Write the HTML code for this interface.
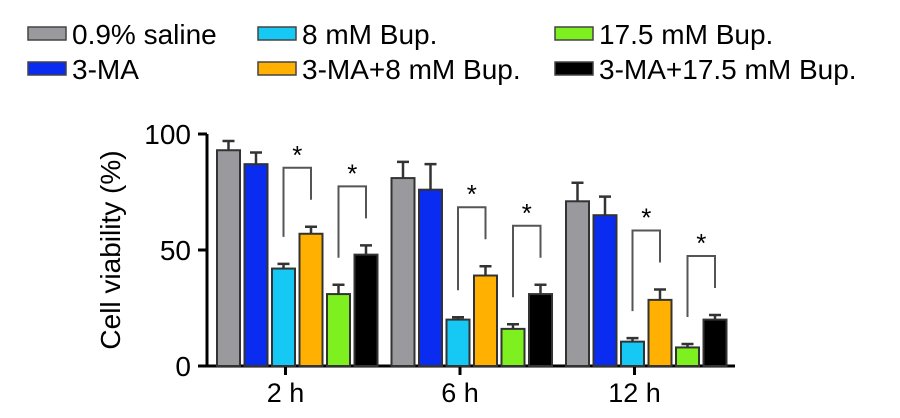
<!DOCTYPE html>
<html><head><meta charset="utf-8"><style>
body{margin:0;background:#fff;width:900px;height:413px;overflow:hidden;font-family:"Liberation Sans",sans-serif}
</style></head><body>
<svg id="c" width="900" height="413" font-family="Liberation Sans, sans-serif"></svg>
<script>
const categories=["2 h","6 h","12 h"];
const seriesNames=["0.9% saline","3-MA","8 mM Bup.","3-MA+8 mM Bup.","17.5 mM Bup.","3-MA+17.5 mM Bup."];
const salineVals=[93,81,71];
const maVals=[87,76,65];
const bup8Vals=[42,20,10.5];
const ma8Vals=[57,39,28.5];
const bup175Vals=[31,16,8];
const ma175Vals=[48,31,20];
const salineErr=[4,7,8];
const maErr=[5,11,8];
const bup8Err=[2,1,1.5];
const ma8Err=[3,4,4.5];
const bup175Err=[4,2,1.5];
const ma175Err=[4,4,2];
const yTicks=[0,50,100];
const colors=["#9a9a9e","#0a2cf0","#16c8f4","#ffb000","#7ef020","#000000"];
const vals=[salineVals,maVals,bup8Vals,ma8Vals,bup175Vals,ma175Vals];
const errs=[salineErr,maErr,bup8Err,ma8Err,bup175Err,ma175Err];
const NS="http://www.w3.org/2000/svg";
const svg=document.getElementById('c');
function mk(t,a,p){const e=document.createElementNS(NS,t);for(const k in a)e.setAttribute(k,a[k]);(p||svg).appendChild(e);return e;}
const y=v=>366-v*2.32;
const groupX=i=>217+i*174.5;
const barX=(g,j)=>groupX(g)+j*27.5;
const bw=23;
let ax=mk('line',{x1:207,y1:134,x2:207,y2:367,stroke:'#000','stroke-width':3});

ax=mk('line',{x1:206,y1:366,x2:735,y2:366,stroke:'#000','stroke-width':3});

yTicks.forEach(t=>{
 const l=mk('line',{x1:198,y1:y(t),x2:207,y2:y(t),stroke:'#000','stroke-width':3});
 
 const tx=mk('text',{x:191,y:y(t)+10,'text-anchor':'end','font-size':28});tx.textContent=t;
 
});
const yl=mk('text',{transform:'translate(120,250) rotate(-90)','text-anchor':'middle','font-size':28});
yl.textContent='Cell viability (%)';

categories.forEach((c,g)=>{
 const cx=barX(g,2)+bw/2+2;
 const l=mk('line',{x1:cx,y1:366,x2:cx,y2:375,stroke:'#000','stroke-width':3});
 
 const tx=mk('text',{x:cx,y:402,'text-anchor':'middle','font-size':27});tx.textContent=c;
 
 const tops=[];
 vals.forEach((arr,j)=>{
  const v=arr[g],e=errs[j][g],x=barX(g,j);
  const r=mk('rect',{x:x,y:y(v),width:bw,height:366-y(v),fill:colors[j],stroke:'#333','stroke-width':2});
  
  const eb=mk('path',{d:`M${x+bw/2},${y(v)}V${y(v+e)}M${x+bw/2-6},${y(v+e)}H${x+bw/2+6}`,stroke:'#333','stroke-width':2.5,fill:'none'});
  
  tops[j]=y(v+e);
 });
 [[2,3],[4,5]].forEach(([a,b])=>{
  const xa=barX(g,a)+bw/2,xb=barX(g,b)+bw/2;
  const la=tops[a]-27,lb=tops[b]-27,h=Math.min(la,lb)-32;
  const br=mk('path',{d:`M${xa},${la}V${h}H${xb}V${lb}`,stroke:'#555','stroke-width':2,fill:'none'});
  
  const st=mk('text',{x:(xa+xb)/2,y:h-4,'text-anchor':'middle','font-size':26});st.textContent='*';
  
 });
});
const legPos=[[28,27],[28,62],[258,27],[258,62],[555,27],[555,62]];
seriesNames.forEach((n,i)=>{
 const [lx,ly]=legPos[i];
 const g=mk('g',{});
 
 mk('rect',{x:lx,y:ly,width:38,height:13,fill:colors[i],stroke:'#444','stroke-width':1.5},g);
 const t=mk('text',{x:lx+44,y:ly+17,'font-size':28},g);t.textContent=n;
});
</script>
</body></html>
